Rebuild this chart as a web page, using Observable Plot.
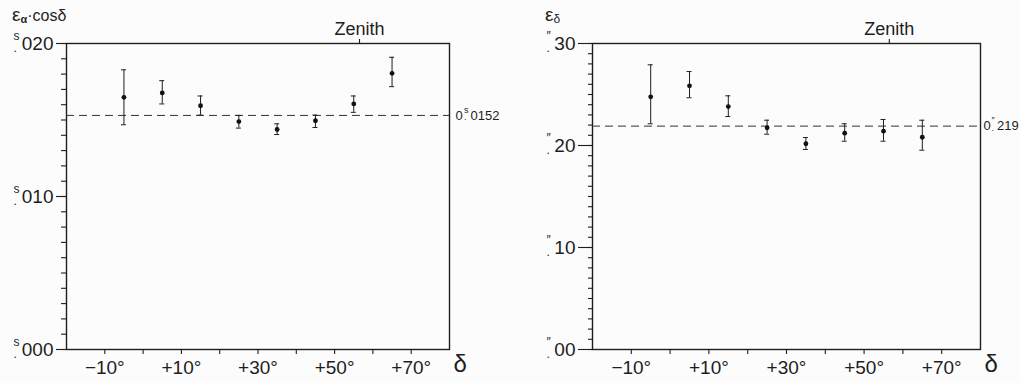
<!DOCTYPE html>
<html><head><meta charset="utf-8">
<script src="https://cdn.jsdelivr.net/npm/d3@7"></script>
<script src="https://cdn.jsdelivr.net/npm/@observablehq/plot@0.6"></script>
<style>
body{margin:0;background:#fcfcfc;}
#wrap{display:flex;width:1020px;height:383px;overflow:hidden;}
svg{font-family:"Liberation Sans",Arial,sans-serif;color:#1e1e1e;background:#fcfcfc;}
</style></head><body><div id="wrap"></div>
<script>
// declination zones (degrees)
const declinations = [-5, 5, 15, 25, 35, 45, 55, 65];
// left panel: e_alpha * cos(delta), seconds of time
const raValues = [0.01648, 0.01677, 0.01593, 0.01490, 0.01438, 0.01495, 0.01605, 0.01805];
const raLow    = [0.01469, 0.01605, 0.01532, 0.01447, 0.01405, 0.01451, 0.01550, 0.01718];
const raHigh   = [0.01828, 0.01757, 0.01657, 0.01530, 0.01475, 0.01532, 0.01657, 0.01910];
const raMean = 0.0153;
const raMeanLabel = ["0", "s", "0152"];
// right panel: e_delta, arcseconds
const decValues = [0.2477, 0.2585, 0.2382, 0.2174, 0.2017, 0.2121, 0.2140, 0.2081];
const decLow    = [0.2213, 0.2468, 0.2284, 0.2111, 0.1961, 0.2042, 0.2042, 0.1954];
const decHigh   = [0.2791, 0.2725, 0.2487, 0.2248, 0.2078, 0.2213, 0.2255, 0.2248];
const decMean = 0.219;
const decMeanLabel = ["0", "\u2033", "219"];
// axes
const xTicks = [-10, 0, 10, 20, 30, 40, 50, 60, 70];
const xLabelled = [-10, 10, 30, 50, 70];
const zenith = 56.5;
const raMajor = [0, 0.010, 0.020];
const raMinor = d3.range(0, 21).map(i => i / 1000);
const decMajor = [0, 0.10, 0.20, 0.30];
const decMinor = d3.range(0, 31).map(i => i / 100);

const ink = "#1e1e1e";
const fmtX = d => xLabelled.includes(d) ? (d < 0 ? "\u2212" + Math.abs(d) + "\u00b0" : "+" + d + "\u00b0") : "";

function panel(o) {
  const rows = declinations.map((d, i) => ({dec: d, v: o.values[i], lo: o.low[i], hi: o.high[i]}));
  const plot = Plot.plot({
    width: o.width, height: 383,
    marginLeft: o.marginLeft, marginRight: o.marginRight, marginTop: 43, marginBottom: 34,
    style: {background: "#fcfcfc", color: ink},
    x: {domain: [-20, 80], label: null},
    y: {domain: o.domain, label: null},
    marks: [
      Plot.axisY({ticks: o.minor, tickSize: o.minorTick, tickFormat: () => "", strokeWidth: 1.1}),
      Plot.axisY({ticks: o.major, tickSize: o.majorTick, tickPadding: 3, tickFormat: o.fmt, fontSize: 19, strokeWidth: 1.1}),
      // unit sign with decimal point beneath it
      Plot.text(o.major, {y: d => d, frameAnchor: "left", dx: o.prefixDx, dy: -1, text: () => o.prefix + "\n.", lineHeight: 1, textAnchor: "start", fontSize: 12, fill: ink}),
      Plot.axisX({ticks: xTicks, tickSize: 5, tickPadding: 6, tickFormat: fmtX, fontSize: 19, strokeWidth: 1.1}),
      Plot.axisX({anchor: "top", ticks: [zenith], tickSize: 5, tickPadding: 4, tickFormat: () => "Zenith", fontSize: 18, strokeWidth: 1.1}),
      Plot.text(["\u03b4"], {frameAnchor: "bottom-right", dx: 4, dy: 22, text: d => d, textAnchor: "start", fontSize: 24, fill: ink}),
      Plot.frame({stroke: ink, strokeWidth: 1.4}),
      Plot.ruleY([o.mean], {stroke: "#333", strokeWidth: 1, strokeDasharray: "8,5"}),
      Plot.ruleX(rows, {x: "dec", y1: "lo", y2: "hi", stroke: ink, strokeWidth: 1}),
      Plot.ruleY(rows, {y: "lo", x1: "dec", x2: "dec", insetLeft: -2.5, insetRight: -2.5, stroke: ink, strokeWidth: 1}),
      Plot.ruleY(rows, {y: "hi", x1: "dec", x2: "dec", insetLeft: -2.5, insetRight: -2.5, stroke: ink, strokeWidth: 1}),
      Plot.dot(rows, {x: "dec", y: "v", r: 2.4, fill: "#111", stroke: "none"}),
      // mean value label
      Plot.text([o.mean], {y: d => d, frameAnchor: "right", dx: o.mDx[0], text: () => o.meanLabel[0], textAnchor: "start", fontSize: 13, fill: ink}),
      Plot.text([o.mean], {y: d => d, frameAnchor: "right", dx: o.mDx[1], dy: -1.5, text: () => o.meanLabel[1] + "\n.", lineHeight: 0.8, textAnchor: "start", fontSize: 9, fill: ink}),
      Plot.text([o.mean], {y: d => d, frameAnchor: "right", dx: o.mDx[2], text: () => o.meanLabel[2], textAnchor: "start", fontSize: 13, fill: ink})
    ]
  });
  // title with subscript
  const t = d3.select(plot).append("text").attr("x", o.titleX).attr("y", 21)
    .attr("fill", ink).attr("text-anchor", "start");
  o.title.forEach(p => t.append("tspan").attr("font-size", p.size).attr("font-weight", p.weight || "normal").attr("dy", p.dy || 0).text(p.text));
  return plot;
}

const wrap = document.getElementById("wrap");
wrap.append(panel({
  width: 520, marginLeft: 66, marginRight: 71, domain: [0, 0.020],
  values: raValues, low: raLow, high: raHigh, mean: raMean, meanLabel: raMeanLabel, mDx: [6, 14.5, 21],
  minor: raMinor, major: raMajor, minorTick: 5, majorTick: 10,
  fmt: d => String(Math.round(d * 1000)).padStart(3, "0"),
  prefix: "s", prefixDx: -53,
  titleX: 12,
  title: [{text: "\u03b5", size: 19}, {text: "\u03b1", size: 11, weight: "bold", dy: 2}, {text: "\u00b7cos\u03b4", size: 16, dy: -2}]
}));
wrap.append(panel({
  width: 500, marginLeft: 72, marginRight: 40, domain: [0, 0.30],
  values: decValues, low: decLow, high: decHigh, mean: decMean, meanLabel: decMeanLabel, mDx: [3, 11, 16.5],
  minor: decMinor, major: decMajor, minorTick: 4, majorTick: 14,
  fmt: d => String(Math.round(d * 100)).padStart(2, "0"),
  prefix: "\u2033", prefixDx: -46,
  titleX: 25,
  title: [{text: "\u03b5", size: 19}, {text: "\u03b4", size: 12, dy: 2}]
}));
</script></body></html>
